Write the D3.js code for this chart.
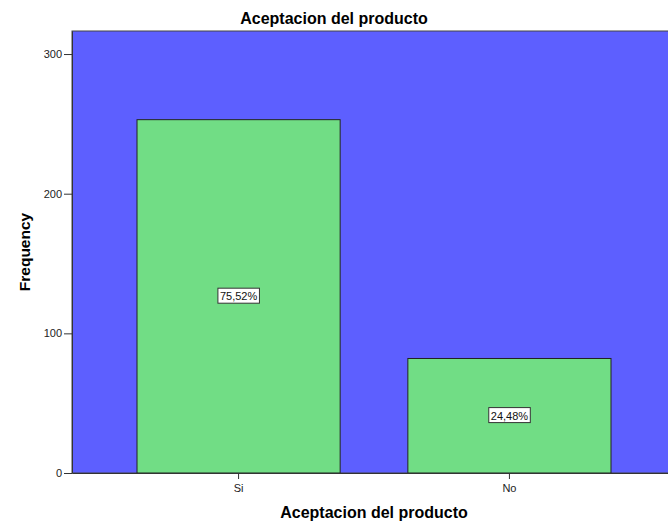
<!DOCTYPE html>
<html>
<head>
<meta charset="utf-8">
<script src="https://cdnjs.cloudflare.com/ajax/libs/d3/7.8.5/d3.min.js"></script>
<style>
  body { margin: 0; background: #fff; }
  svg { display: block; font-family: "Liberation Sans", Arial, sans-serif; }
</style>
</head>
<body>
<div id="chart"></div>
<script>
// data
var categories = ["Si", "No"];
var frequencies = [253, 82];
var percentLabels = ["75,52%", "24,48%"];
var yTicks = [0, 100, 200, 300];

var W = 668, H = 524;
var plot = { left: 72, right: 676, top: 31, bottom: 473 };

var svg = d3.select("#chart").append("svg").attr("width", W).attr("height", H);

var x = d3.scaleBand()
    .domain(categories)
    .range([plot.left, plot.right])
    .paddingInner(0.25)
    .paddingOuter(0.24);

var y = d3.scaleLinear()
    .domain([0, 316.5])
    .range([plot.bottom, plot.top]);

// plot background
svg.append("rect")
    .attr("x", plot.left).attr("y", plot.top)
    .attr("width", plot.right - plot.left).attr("height", plot.bottom - plot.top)
    .attr("fill", "#5d5fff")
    .attr("stroke", "#444").attr("stroke-width", 1);

// bars
svg.append("g").selectAll("rect")
    .data(frequencies)
    .enter().append("rect")
    .attr("x", function (d, i) { return x(categories[i]); })
    .attr("y", function (d) { return y(d); })
    .attr("width", x.bandwidth())
    .attr("height", function (d) { return y(0) - y(d); })
    .attr("fill", "#71dd85")
    .attr("stroke", "#222").attr("stroke-width", 1);

// percent labels in the middle of each bar
var labels = svg.append("g").selectAll("g")
    .data(frequencies)
    .enter().append("g")
    .attr("transform", function (d, i) {
        return "translate(" + (x(categories[i]) + x.bandwidth() / 2) + "," + y(d / 2) + ")";
    });

labels.append("text")
    .attr("text-anchor", "middle")
    .attr("dy", "0.35em")
    .attr("font-size", 11)
    .attr("fill", "#111")
    .text(function (d, i) { return percentLabels[i]; })
    .each(function () {
        var b = this.getBBox();
        d3.select(this.parentNode).insert("rect", "text")
            .attr("x", b.x - 2).attr("y", b.y - 2)
            .attr("width", b.width + 4).attr("height", b.height + 3)
            .attr("fill", "#fff")
            .attr("stroke", "#333").attr("stroke-width", 1);
    });

// axes
var yAxis = svg.append("g")
    .attr("transform", "translate(" + plot.left + ",0)")
    .call(d3.axisLeft(y).tickValues(yTicks).tickSize(8).tickSizeOuter(0).tickPadding(2));

var xAxis = svg.append("g")
    .attr("transform", "translate(0," + plot.bottom + ")")
    .call(d3.axisBottom(x).tickSize(6).tickSizeOuter(0).tickPadding(5));

[yAxis, xAxis].forEach(function (a) {
    a.select(".domain").attr("stroke", "#333");
    a.selectAll(".tick line").attr("stroke", "#333");
    a.selectAll(".tick text").attr("font-size", 11).attr("fill", "#222")
        .attr("font-family", "Liberation Sans, Arial, sans-serif");
});

// titles
svg.append("text")
    .attr("x", W / 2).attr("y", 24)
    .attr("text-anchor", "middle")
    .attr("font-size", 16).attr("font-weight", "bold")
    .text("Aceptacion del producto");

svg.append("text")
    .attr("x", (plot.left + plot.right) / 2).attr("y", 518)
    .attr("text-anchor", "middle")
    .attr("font-size", 16).attr("font-weight", "bold")
    .text("Aceptacion del producto");

svg.append("text")
    .attr("transform", "translate(30," + ((plot.top + plot.bottom) / 2) + ") rotate(-90)")
    .attr("text-anchor", "middle")
    .attr("font-size", 15.5).attr("font-weight", "bold")
    .text("Frequency");
</script>
</body>
</html>
